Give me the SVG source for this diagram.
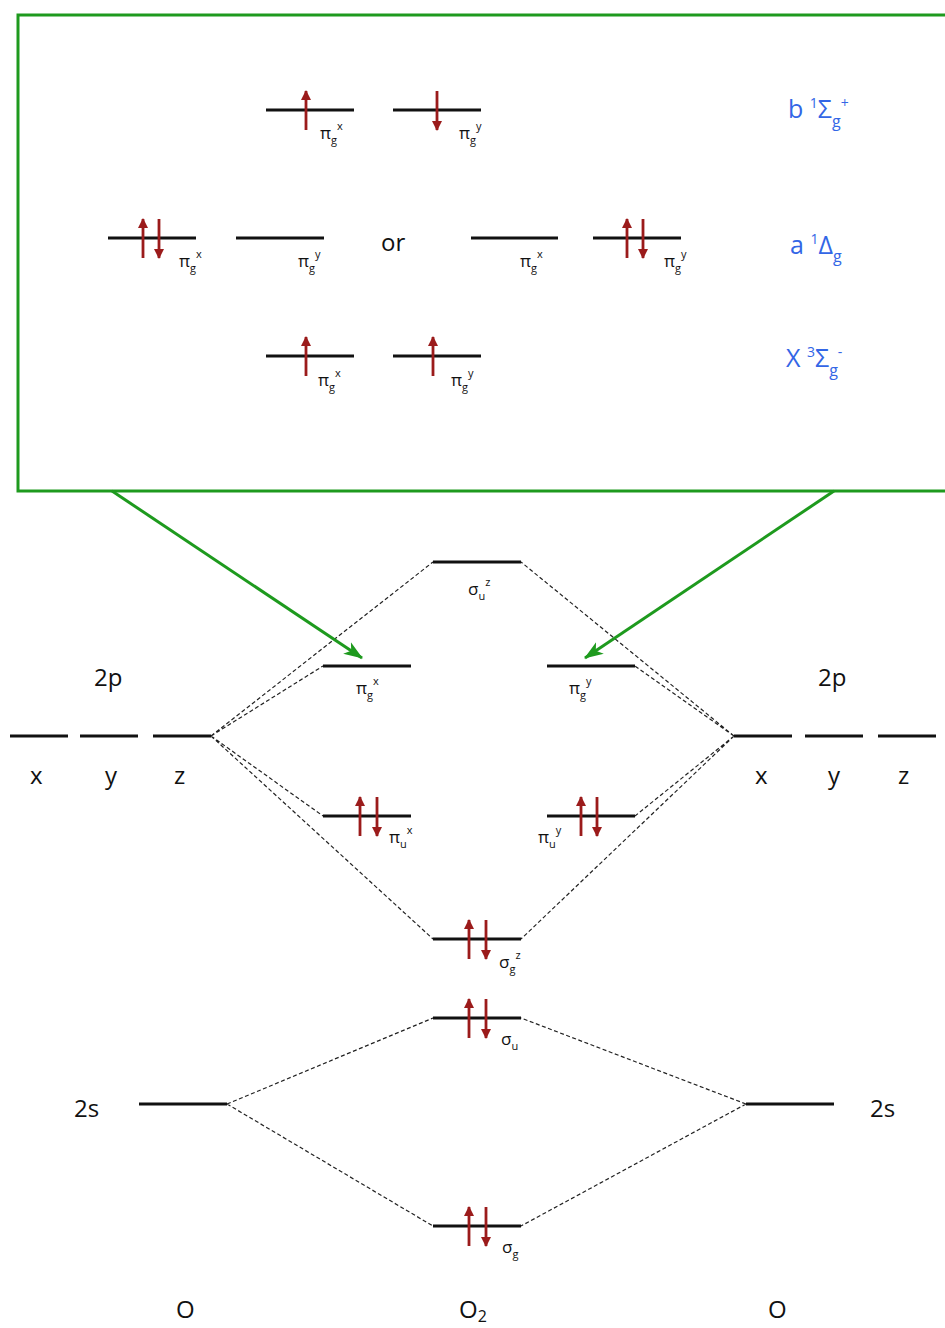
<svg xmlns="http://www.w3.org/2000/svg" width="945" height="1328" viewBox="0 0 945 1328">
<defs>
<marker id="eh" markerUnits="userSpaceOnUse" markerWidth="12" markerHeight="10" refX="9" refY="5" orient="auto"><path d="M0,0 L10,5 L0,10 z" fill="#9b1b1b"/></marker>
<marker id="gh" markerUnits="userSpaceOnUse" markerWidth="22" markerHeight="16" refX="18" refY="8" orient="auto"><path d="M0,1 L19,8 L0,15 L5,8 z" fill="#1e9a1e"/></marker>
</defs>
<style>
.lv{stroke:#111;stroke-width:3.2;fill:none}
.e{stroke:#9b1b1b;stroke-width:2.8;marker-end:url(#eh)}
.d{stroke:#222;stroke-width:1.2;stroke-dasharray:4 2.5;fill:none}
.g{stroke:#1e9a1e;stroke-width:3;fill:none}
.t{font-family:"Open Sans","Liberation Sans",sans-serif;fill:#111}
.big{font-size:24px}
.sm{font-size:17px}
.sub{font-size:11px}
.bl{font-family:"Open Sans","Liberation Sans",sans-serif;fill:#3366e6;font-size:25px}
</style>
<rect width="945" height="1328" fill="#fff"/>

<g id="box">
<rect x="18" y="15" width="940" height="476" fill="#fff" stroke="#1e9a1e" stroke-width="3"/>
</g>

<g id="connectors">
<path class="d" d="M211,736 L433,562 M211,736 L323,666 M211,736 L323,816 M211,736 L433,939"/>
<path class="d" d="M734,736 L521,562 M734,736 L635,666 M734,736 L635,816 M734,736 L521,939"/>
<path class="d" d="M227,1104 L433,1018 M227,1104 L433,1226 M746,1104 L521,1018 M746,1104 L521,1226"/>
<line class="g" x1="112" y1="491" x2="362" y2="658" marker-end="url(#gh)"/>
<line class="g" x1="834" y1="491" x2="585" y2="658" marker-end="url(#gh)"/>
</g>

<g id="state-b">
<line class="lv" x1="266" y1="110" x2="354" y2="110"/>
<line class="lv" x1="393" y1="110" x2="481" y2="110"/>
<line class="e" x1="306" y1="130" x2="306" y2="91"/>
<line class="e" x1="437" y1="91" x2="437" y2="130"/>
<text class="t sm" x="320" y="139">π<tspan class="sub" dy="5">g</tspan><tspan class="sub" dy="-14">x</tspan></text>
<text class="t sm" x="459" y="139">π<tspan class="sub" dy="5">g</tspan><tspan class="sub" dy="-14">y</tspan></text>
<text class="bl" x="788" y="118">b <tspan font-size="14" dy="-10">1</tspan><tspan dy="10">Σ</tspan><tspan font-size="16" dy="9">g</tspan><tspan font-size="14" dy="-19">+</tspan></text>
</g>

<g id="state-a">
<line class="lv" x1="108" y1="238" x2="196" y2="238"/>
<line class="lv" x1="236" y1="238" x2="324" y2="238"/>
<line class="lv" x1="471" y1="238" x2="558" y2="238"/>
<line class="lv" x1="593" y1="238" x2="681" y2="238"/>
<line class="e" x1="143" y1="258" x2="143" y2="219"/>
<line class="e" x1="159" y1="219" x2="159" y2="258"/>
<line class="e" x1="627" y1="258" x2="627" y2="219"/>
<line class="e" x1="643" y1="219" x2="643" y2="258"/>
<text class="t sm" x="179" y="267">π<tspan class="sub" dy="5">g</tspan><tspan class="sub" dy="-14">x</tspan></text>
<text class="t sm" x="298" y="267">π<tspan class="sub" dy="5">g</tspan><tspan class="sub" dy="-14">y</tspan></text>
<text class="t big" x="381" y="251">or</text>
<text class="t sm" x="520" y="267">π<tspan class="sub" dy="5">g</tspan><tspan class="sub" dy="-14">x</tspan></text>
<text class="t sm" x="664" y="267">π<tspan class="sub" dy="5">g</tspan><tspan class="sub" dy="-14">y</tspan></text>
<text class="bl" x="790" y="254">a <tspan font-size="14" dy="-10">1</tspan><tspan dy="10">Δ</tspan><tspan font-size="16" dy="8">g</tspan></text>
</g>

<g id="state-X">
<line class="lv" x1="266" y1="356" x2="354" y2="356"/>
<line class="lv" x1="393" y1="356" x2="481" y2="356"/>
<line class="e" x1="306" y1="376" x2="306" y2="337"/>
<line class="e" x1="433" y1="376" x2="433" y2="337"/>
<text class="t sm" x="318" y="386">π<tspan class="sub" dy="5">g</tspan><tspan class="sub" dy="-14">x</tspan></text>
<text class="t sm" x="451" y="386">π<tspan class="sub" dy="5">g</tspan><tspan class="sub" dy="-14">y</tspan></text>
<text class="bl" x="786" y="367">X <tspan font-size="14" dy="-10">3</tspan><tspan dy="10">Σ</tspan><tspan font-size="16" dy="9">g</tspan><tspan font-size="14" dy="-19">-</tspan></text>
</g>

<g id="O-left-2p">
<line class="lv" x1="10" y1="736" x2="68" y2="736"/>
<line class="lv" x1="80" y1="736" x2="138" y2="736"/>
<line class="lv" x1="153" y1="736" x2="211" y2="736"/>
<text class="t big" x="94" y="686">2p</text>
<text class="t big" x="30" y="784">x</text>
<text class="t big" x="105" y="784">y</text>
<text class="t big" x="174" y="784">z</text>
</g>

<g id="O-right-2p">
<line class="lv" x1="734" y1="736" x2="792" y2="736"/>
<line class="lv" x1="805" y1="736" x2="863" y2="736"/>
<line class="lv" x1="878" y1="736" x2="936" y2="736"/>
<text class="t big" x="818" y="686">2p</text>
<text class="t big" x="755" y="784">x</text>
<text class="t big" x="828" y="784">y</text>
<text class="t big" x="898" y="784">z</text>
</g>

<g id="sigma-u-z">
<line class="lv" x1="433" y1="562" x2="521" y2="562"/>
<text class="t sm" x="468" y="595">σ<tspan class="sub" dy="5">u</tspan><tspan class="sub" dy="-14">z</tspan></text>
</g>

<g id="pi-g-x">
<line class="lv" x1="323" y1="666" x2="411" y2="666"/>
<text class="t sm" x="356" y="694">π<tspan class="sub" dy="5">g</tspan><tspan class="sub" dy="-14">x</tspan></text>
</g>

<g id="pi-g-y">
<line class="lv" x1="547" y1="666" x2="635" y2="666"/>
<text class="t sm" x="569" y="694">π<tspan class="sub" dy="5">g</tspan><tspan class="sub" dy="-14">y</tspan></text>
</g>

<g id="pi-u-x">
<line class="lv" x1="323" y1="816" x2="411" y2="816"/>
<line class="e" x1="360" y1="836" x2="360" y2="797"/>
<line class="e" x1="377" y1="797" x2="377" y2="836"/>
<text class="t sm" x="389" y="843">π<tspan class="sub" dy="5">u</tspan><tspan class="sub" dy="-14">x</tspan></text>
</g>

<g id="pi-u-y">
<line class="lv" x1="547" y1="816" x2="635" y2="816"/>
<line class="e" x1="581" y1="836" x2="581" y2="797"/>
<line class="e" x1="597" y1="797" x2="597" y2="836"/>
<text class="t sm" x="538" y="843">π<tspan class="sub" dy="5">u</tspan><tspan class="sub" dy="-14">y</tspan></text>
</g>

<g id="sigma-g-z">
<line class="lv" x1="433" y1="939" x2="521" y2="939"/>
<line class="e" x1="469" y1="959" x2="469" y2="920"/>
<line class="e" x1="486" y1="920" x2="486" y2="959"/>
<text class="t sm" x="499" y="968">σ<tspan class="sub" dy="5">g</tspan><tspan class="sub" dy="-14">z</tspan></text>
</g>

<g id="sigma-u">
<line class="lv" x1="433" y1="1018" x2="521" y2="1018"/>
<line class="e" x1="469" y1="1038" x2="469" y2="999"/>
<line class="e" x1="486" y1="999" x2="486" y2="1038"/>
<text class="t sm" x="501" y="1045">σ<tspan class="sub" dy="5">u</tspan></text>
</g>

<g id="O-left-2s">
<line class="lv" x1="139" y1="1104" x2="227" y2="1104"/>
<text class="t big" x="74" y="1117">2s</text>
</g>

<g id="O-right-2s">
<line class="lv" x1="746" y1="1104" x2="834" y2="1104"/>
<text class="t big" x="870" y="1117">2s</text>
</g>

<g id="sigma-g">
<line class="lv" x1="433" y1="1226" x2="521" y2="1226"/>
<line class="e" x1="469" y1="1246" x2="469" y2="1207"/>
<line class="e" x1="486" y1="1207" x2="486" y2="1246"/>
<text class="t sm" x="502" y="1253">σ<tspan class="sub" dy="5">g</tspan></text>
</g>

<g id="atom-labels">
<text class="t big" x="176" y="1318">O</text>
<text class="t big" x="459" y="1318">O<tspan font-size="16" dy="4">2</tspan></text>
<text class="t big" x="768" y="1318">O</text>
</g>
</svg>
